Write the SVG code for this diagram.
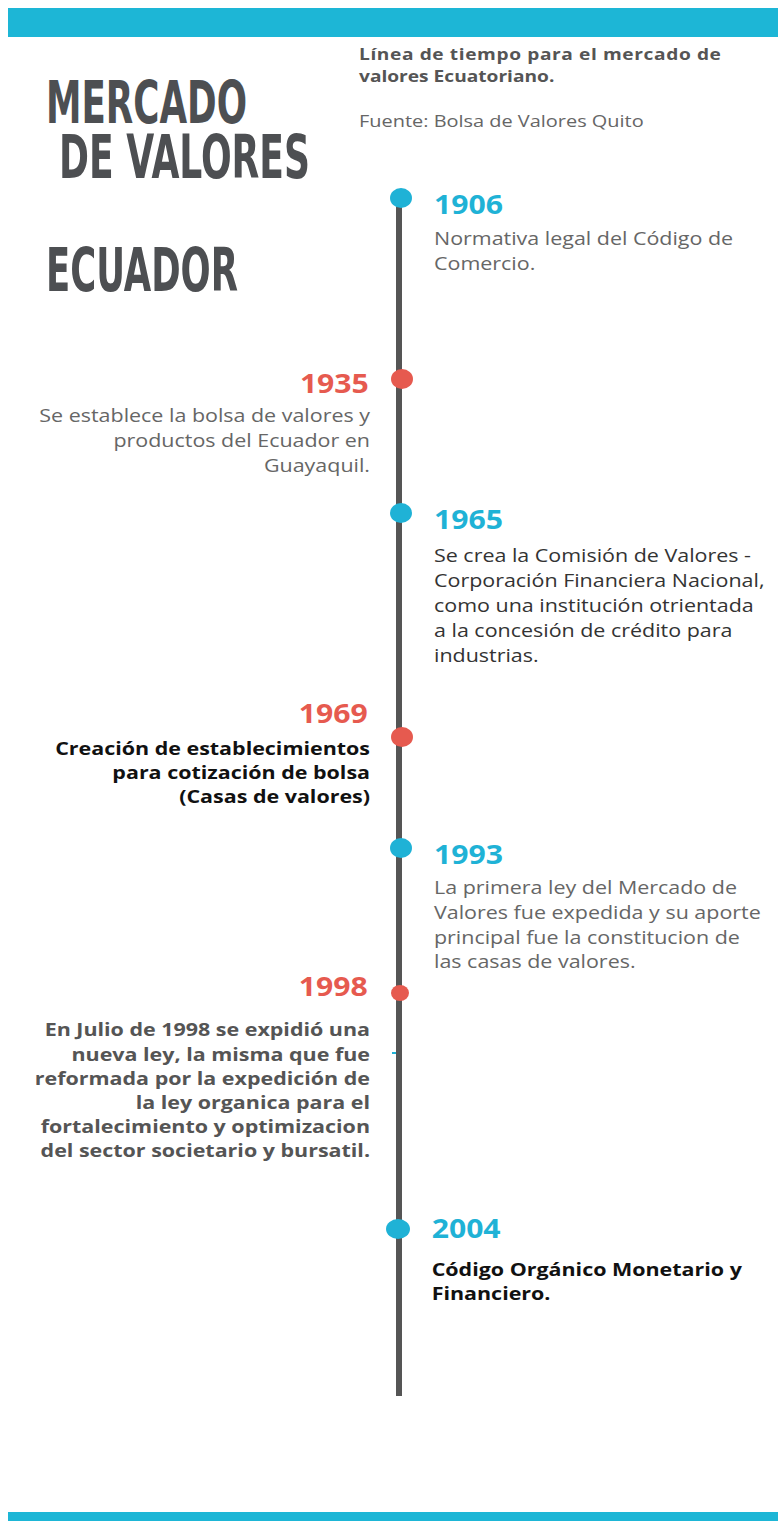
<svg xmlns="http://www.w3.org/2000/svg" width="778" height="1521" viewBox="0 0 778 1521">
<style>
.title{font-family:"Liberation Sans Narrow","DejaVu Sans Condensed","Liberation Sans",sans-serif;font-weight:bold;fill:#4d4f52}
.t{font-family:"Open Sans","Noto Sans",sans-serif;font-size:18.5px}
.reg{fill:#666666}
.dark{fill:#333333}
.b{font-weight:bold}
.blk{fill:#111111}
.gb{fill:#555555}
.yr{font-family:"Open Sans","Noto Sans",sans-serif;font-weight:bold;font-size:26px}
.blue{fill:#1fb2d6}
.red{fill:#e65a4f}
</style>
<rect x="8" y="8" width="770" height="29" fill="#1db6d6"/>
<rect x="8" y="1512" width="770" height="9" fill="#1db6d6"/>
<g id="header">
<text class="title" x="46" y="123" font-size="58" textLength="201" lengthAdjust="spacingAndGlyphs">MERCADO</text>
<text class="title" x="59" y="178" font-size="60" textLength="251" lengthAdjust="spacingAndGlyphs">DE VALORES</text>
<text class="title" x="46" y="291" font-size="60" textLength="192" lengthAdjust="spacingAndGlyphs">ECUADOR</text>
<g transform="matrix(1.16 0 0 1 -57.44 0)">
<text class="t b gb" x="359" y="60" style="font-size:16.5px" textLength="312" lengthAdjust="spacing">Línea de tiempo para el mercado de</text>
<text class="t b gb" x="359" y="82" style="font-size:16.5px">valores Ecuatoriano.</text>
<text class="t reg" x="359" y="127" style="font-size:17.2px">Fuente: Bolsa de Valores Quito</text>
</g>
</g>
<g id="connectors">
<rect x="396" y="198" width="6" height="1198" fill="#555555"/>
<rect x="392" y="1052" width="4" height="2" fill="#1fb2d6"/>
</g>
<g id="n1906">
<ellipse cx="401" cy="198" rx="11" ry="10" class="blue"/>
<g transform="matrix(1.16 0 0 1 -69.44 0)">
<text class="yr blue" x="434" y="214">1906</text>
<text class="t reg" x="434" y="245">Normativa legal del Código de</text>
<text class="t reg" x="434" y="270">Comercio.</text>
</g>
</g>
<g id="n1935">
<ellipse cx="402" cy="379" rx="11" ry="10" class="red"/>
<g transform="matrix(1.16 0 0 1 -59.2 0)">
<text class="yr red" x="369" y="393" text-anchor="end">1935</text>
<text class="t reg" x="370" y="422" text-anchor="end">Se establece la bolsa de valores y</text>
<text class="t reg" x="370" y="447" text-anchor="end">productos del Ecuador en</text>
<text class="t reg" x="370" y="472" text-anchor="end">Guayaquil.</text>
</g>
</g>
<g id="n1965">
<ellipse cx="401" cy="513" rx="11" ry="10" class="blue"/>
<g transform="matrix(1.16 0 0 1 -69.44 0)">
<text class="yr blue" x="434" y="529">1965</text>
<text class="t dark" x="434" y="562">Se crea la Comisión de Valores -</text>
<text class="t dark" x="434" y="587">Corporación Financiera Nacional,</text>
<text class="t dark" x="434" y="612">como una institución otrientada</text>
<text class="t dark" x="434" y="637">a la concesión de crédito para</text>
<text class="t dark" x="434" y="662">industrias.</text>
</g>
</g>
<g id="n1969">
<ellipse cx="402" cy="737" rx="11" ry="10" class="red"/>
<g transform="matrix(1.16 0 0 1 -59.2 0)">
<text class="yr red" x="368" y="723" text-anchor="end">1969</text>
<text class="t b blk" x="370" y="755" text-anchor="end">Creación de establecimientos</text>
<text class="t b blk" x="370" y="779" text-anchor="end">para cotización de bolsa</text>
<text class="t b blk" x="370" y="803" text-anchor="end">(Casas de valores)</text>
</g>
</g>
<g id="n1993">
<ellipse cx="401" cy="848" rx="11" ry="10" class="blue"/>
<g transform="matrix(1.16 0 0 1 -69.44 0)">
<text class="yr blue" x="434" y="864">1993</text>
<text class="t reg" x="434" y="894">La primera ley del Mercado de</text>
<text class="t reg" x="434" y="919">Valores fue expedida y su aporte</text>
<text class="t reg" x="434" y="944">principal fue la constitucion de</text>
<text class="t reg" x="434" y="968">las casas de valores.</text>
</g>
</g>
<g id="n1998">
<ellipse cx="400" cy="993" rx="9" ry="8" class="red"/>
<g transform="matrix(1.16 0 0 1 -59.2 0)">
<text class="yr red" x="368" y="996" text-anchor="end">1998</text>
<text class="t b gb" x="370" y="1036" text-anchor="end">En Julio de 1998 se expidió una</text>
<text class="t b gb" x="370" y="1061" text-anchor="end">nueva ley, la misma que fue</text>
<text class="t b gb" x="370" y="1085" text-anchor="end">reformada por la expedición de</text>
<text class="t b gb" x="370" y="1109" text-anchor="end">la ley organica para el</text>
<text class="t b gb" x="370" y="1133" text-anchor="end">fortalecimiento y optimizacion</text>
<text class="t b gb" x="370" y="1157" text-anchor="end">del sector societario y bursatil.</text>
</g>
</g>
<g id="n2004">
<ellipse cx="398" cy="1229" rx="12" ry="10" class="blue"/>
<g transform="matrix(1.16 0 0 1 -69.44 0)">
<text class="yr blue" x="432" y="1238">2004</text>
<text class="t b blk" x="432" y="1276">Código Orgánico Monetario y</text>
<text class="t b blk" x="432" y="1300">Financiero.</text>
</g>
</g>
</svg>
